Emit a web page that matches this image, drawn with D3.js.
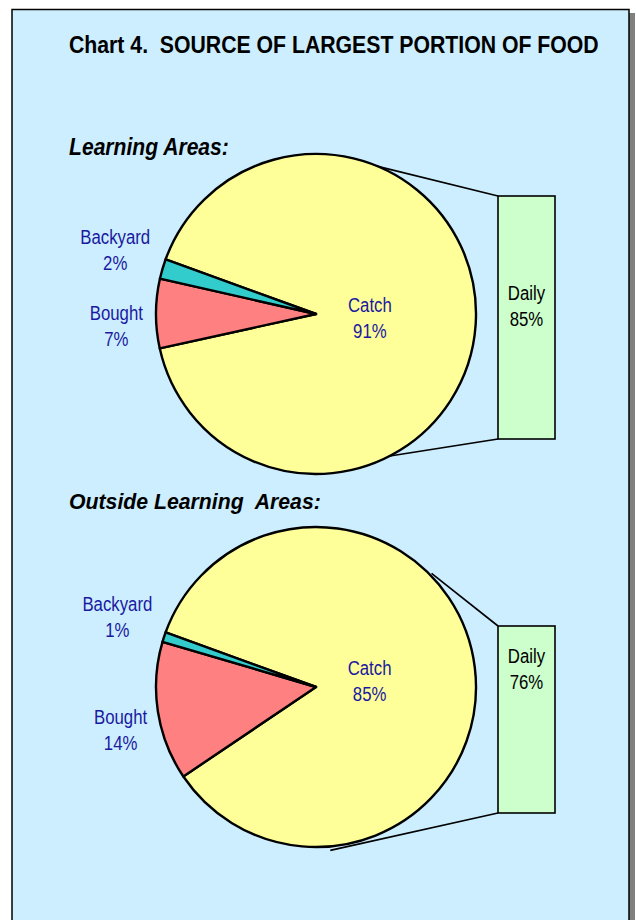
<!DOCTYPE html>
<html>
<head>
<meta charset="utf-8">
<script src="https://cdn.jsdelivr.net/npm/d3@7"></script>
<style>
  body { margin: 0; background: #fff; }
  svg { display: block; }
</style>
</head>
<body>
<svg width="636" height="920"></svg>
<script>
// data
const groups = ["Learning Areas:", "Outside Learning  Areas:"];
const sources = ["Catch", "Bought", "Backyard"];
const shares = [[91, 7, 2], [85, 14, 1]];
const dailyShare = [85, 76];
const sourceColors = ["#ffff99", "#ff8080", "#33cccc"];

const title = "Chart 4.  SOURCE OF LARGEST PORTION OF FOOD";

// layout
const cx = 316, radius = 160;
const centerY = [314, 687];
const headY = [155, 509];
const headW = [160, 252];
const barX = [498, 555];
const barTop = [196, 626], barBottom = [439, 813];
const dailyLabelY = [306, 669];
const labelR = [54, 200, 211];
const labelNudge = [0, -3.5, 1.5]; // degrees, labels pushed apart
const connectAngles = [[22.7, 152.5], [45.5, 175]];
const connectR = [[160, 160], [162, 164]];

const svg = d3.select("svg");
const deg = Math.PI / 180;
const narrow = 0.86;

// panel + shadow
svg.append("rect").attr("x", 17).attr("y", 13).attr("width", 618).attr("height", 920)
    .attr("fill", "#808080");
svg.append("rect").attr("x", 12).attr("y", 9.5).attr("width", 617).attr("height", 920)
    .attr("fill", "#cceeff").attr("stroke", "#000").attr("stroke-width", 1.5);

// squeeze a heading to a given width with a transform
function squeezed(txt, x, y, width, italic) {
    const g = svg.append("g");
    const t = g.append("text")
        .style("font-family", "'Liberation Sans', Arial, sans-serif")
        .style("font-weight", "bold").style("font-size", "23px")
        .style("font-style", italic ? "italic" : "normal")
        .style("white-space", "pre")
        .text(txt);
    const w = t.node().getComputedTextLength();
    g.attr("transform", `translate(${x},${y}) scale(${width / w},1)`);
}

squeezed(title, 69, 53, 530, false);

const pie = d3.pie().sort(null).value(d => d)
    .startAngle(290 * deg).endAngle(650 * deg);
const arc = d3.arc().innerRadius(0).outerRadius(radius);

function twoLines(sel, a, b, x, y) {
    [a, b].forEach((s, k) => {
        const ts = sel.append("tspan")
            .attr("x", x).attr("y", y + (k ? 13 : -13)).attr("dy", "0.35em").text(s);
        const w = ts.node().getComputedTextLength();
        ts.attr("textLength", w * narrow).attr("lengthAdjust", "spacingAndGlyphs");
    });
}

groups.forEach((g, i) => {
    const cy = centerY[i];

    squeezed(g, 69, headY[i], headW[i], true);

    // connector lines from pie edge to the bar
    connectAngles[i].forEach((a, k) => {
        const px = cx + Math.sin(a * deg) * connectR[i][k];
        const py = cy - Math.cos(a * deg) * connectR[i][k];
        svg.append("line")
            .attr("x1", px).attr("y1", py)
            .attr("x2", barX[0]).attr("y2", k === 0 ? barTop[i] : barBottom[i])
            .attr("stroke", "#000").attr("stroke-width", 1.6);
    });

    const chart = svg.append("g").attr("transform", `translate(${cx},${cy})`);
    const slices = pie(shares[i]);

    chart.selectAll("path").data(slices).enter().append("path")
        .attr("d", arc)
        .attr("fill", (d, j) => sourceColors[j])
        .attr("stroke", "#000").attr("stroke-width", 2.4)
        .attr("stroke-linejoin", "round");

    slices.forEach((d, j) => {
        const a = (d.startAngle + d.endAngle) / 2 + labelNudge[j] * deg;
        const x = Math.sin(a) * labelR[j];
        const y = -Math.cos(a) * labelR[j];
        const t = chart.append("text")
            .attr("text-anchor", "middle")
            .attr("fill", "#1a1aa0")
            .style("font-family", "'Liberation Sans', Arial, sans-serif")
            .style("font-size", "19.5px");
        twoLines(t, sources[j], d.data + "%", x, y + 1);
    });

    // the "Daily" bar
    svg.append("rect")
        .attr("x", barX[0]).attr("y", barTop[i])
        .attr("width", barX[1] - barX[0]).attr("height", barBottom[i] - barTop[i])
        .attr("fill", "#ccffcc").attr("stroke", "#000").attr("stroke-width", 1.6);

    const dt = svg.append("text")
        .attr("text-anchor", "middle").attr("fill", "#000")
        .style("font-family", "'Liberation Sans', Arial, sans-serif")
        .style("font-size", "19.5px");
    twoLines(dt, "Daily", dailyShare[i] + "%", (barX[0] + barX[1]) / 2, dailyLabelY[i]);
});
</script>
</body>
</html>
